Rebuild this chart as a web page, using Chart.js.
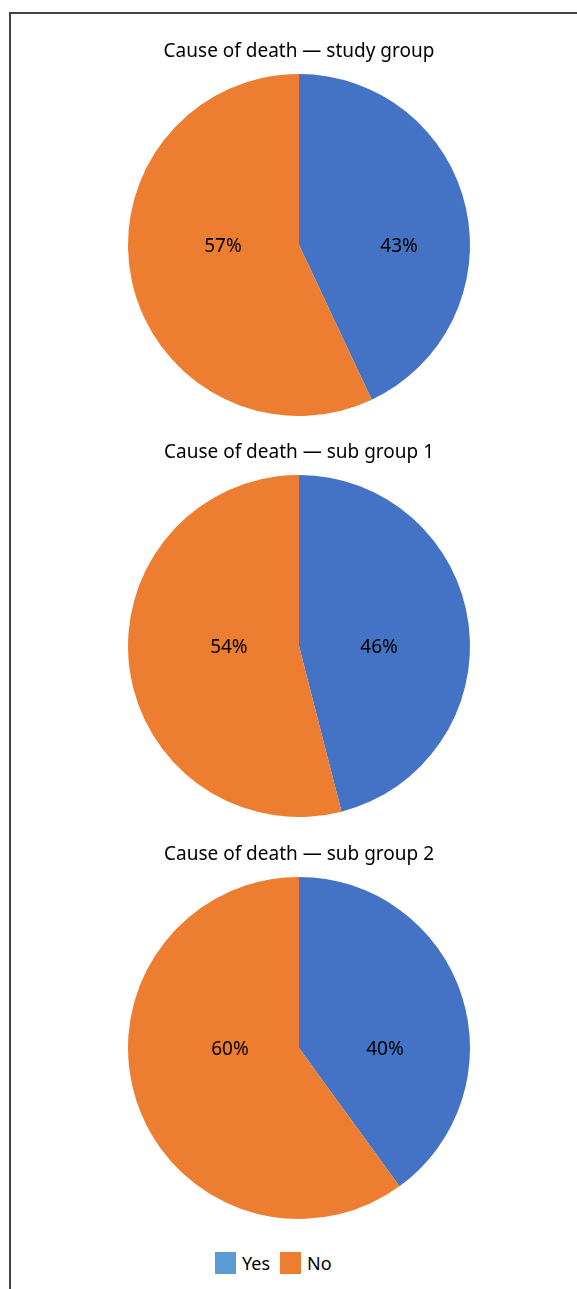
<!DOCTYPE html>
<html>
<head>
<meta charset="utf-8">
<script src="https://cdn.jsdelivr.net/npm/chart.js@4/dist/chart.umd.min.js"></script>
<style>
  html, body { margin: 0; padding: 0; background: #fff; }
  body { width: 577px; height: 1289px; position: relative; overflow: hidden; font-family: "Noto Sans", "Open Sans", sans-serif; }
  .frame { position: absolute; left: 9px; top: 12px; right: -4px; bottom: -4px; border-top: 2px solid #444; border-left: 2px solid #444; }
  .pie { position: absolute; left: 21px; width: 556px; }
  .legend { position: absolute; left: 215px; top: 1251px; display: flex; align-items: center; font-size: 18px; color: #000; }
  .legend .item { display: flex; align-items: center; margin-right: 10px; }
  .legend .box { width: 21px; height: 22px; margin-right: 6px; }
</style>
</head>
<body>
<div class="frame"></div>
<div class="pie" style="top:30px;height:386px"><canvas id="c1"></canvas></div>
<div class="pie" style="top:431px;height:386px"><canvas id="c2"></canvas></div>
<div class="pie" style="top:833px;height:386px"><canvas id="c3"></canvas></div>
<div class="legend" id="legend"></div>
<script>
// Answer categories shared by all three pies
const categories = ['Yes', 'No'];

// Share of deaths (%) in each group
const studyGroup = [43, 57];
const subGroup1 = [46, 54];
const subGroup2 = [40, 60];

const titles = [
  'Cause of death \u2014 study group',
  'Cause of death \u2014 sub group 1',
  'Cause of death \u2014 sub group 2'
];

const sliceColors = ['#4472C4', '#ED7D31'];
const legendColors = ['#5B9BD5', '#ED7D31'];
const FONT = '"Noto Sans", "Open Sans", sans-serif';

// Writes the percentage of each slice on a horizontal line through the centre
const sliceLabels = {
  id: 'sliceLabels',
  afterDatasetsDraw(chart, args, opts) {
    const meta = chart.getDatasetMeta(0);
    const values = chart.data.datasets[0].data;
    const ctx = chart.ctx;
    ctx.save();
    ctx.font = '19px ' + FONT;
    ctx.fillStyle = '#000';
    ctx.textAlign = 'center';
    ctx.textBaseline = 'middle';
    meta.data.forEach((arc, i) => {
      const p = arc.getProps(['x', 'y', 'outerRadius', 'startAngle', 'endAngle'], true);
      const mid = (p.startAngle + p.endAngle) / 2;
      const dir = Math.cos(mid) >= 0 ? 1 : -1;
      const x = p.x + dir * opts.spread[i] * p.outerRadius;
      ctx.fillText(values[i] + '%', x, p.y + 2);
    });
    ctx.restore();
  }
};

function makePie(id, title, values, spread) {
  return new Chart(document.getElementById(id), {
    type: 'pie',
    data: {
      labels: categories,
      datasets: [{
        data: values,
        backgroundColor: sliceColors,
        borderWidth: 0,
        hoverBorderWidth: 0,
        offset: 0,
        hoverOffset: 0
      }]
    },
    options: {
      responsive: true,
      maintainAspectRatio: false,
      animation: false,
      events: [],
      layout: { padding: 0 },
      plugins: {
        legend: { display: false },
        tooltip: { enabled: false },
        title: {
          display: true,
          text: title,
          color: '#000',
          font: { family: FONT, size: 19, weight: 'normal', lineHeight: 1.2 },
          padding: { top: 10.4, bottom: 10.8 }
        },
        sliceLabels: { spread }
      }
    },
    plugins: [sliceLabels]
  });
}

makePie('c1', titles[0], studyGroup, [0.585, 0.445]);
makePie('c2', titles[1], subGroup1, [0.468, 0.41]);
const last = makePie('c3', titles[2], subGroup2, [0.503, 0.404]);

// Shared legend built from the chart's own legend items
const items = Chart.overrides.pie.plugins.legend.labels.generateLabels(last);
const legendEl = document.getElementById('legend');
items.forEach((item, i) => {
  const el = document.createElement('div');
  el.className = 'item';
  const box = document.createElement('span');
  box.className = 'box';
  box.style.background = legendColors[i];
  const txt = document.createElement('span');
  txt.textContent = item.text;
  el.appendChild(box);
  el.appendChild(txt);
  legendEl.appendChild(el);
});
</script>
</body>
</html>
